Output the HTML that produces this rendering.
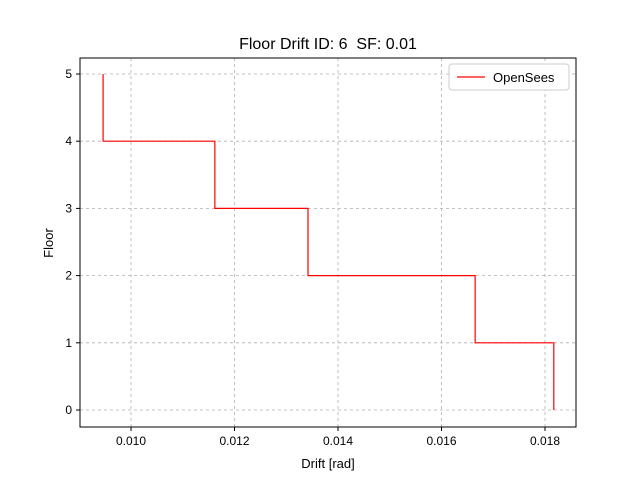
<!DOCTYPE html>
<html><head><meta charset="utf-8"><style>
body{margin:0;background:#fff}
svg text{font-family:"Liberation Sans","DejaVu Sans",sans-serif;fill:#000}
</style></head><body>
<svg id="chart" width="640" height="480">
<rect width="640" height="480" fill="#fff"/>
<text x="328" y="49" font-size="16" text-anchor="middle" style="white-space:pre">Floor Drift ID: 6&#160; SF: 0.01</text>
<g id="grid"></g>
<g id="ticks"></g>
<path id="series" fill="none" stroke="#ff0000" stroke-width="1.2"/>
<rect x="80" y="58" width="496" height="369" fill="none" stroke="#000" stroke-width="1"/>
<text x="328" y="468" font-size="13" text-anchor="middle">Drift [rad]</text>
<text x="53" y="243" font-size="13" text-anchor="middle" transform="rotate(-90 53 243)">Floor</text>
<g>
<rect x="449" y="64" width="120" height="26" rx="3" fill="#fff" stroke="#ccc"/>
<line x1="457" y1="77" x2="485" y2="77" stroke="#ff0000" stroke-width="1.2"/>
<text x="493" y="82" font-size="13">OpenSees</text>
</g>
</svg>
<script>
const floors=[0,1,2,3,4,5];
const drifts=[0.01817,0.01665,0.01342,0.01162,0.00946];
const xTicks=[0.010,0.012,0.014,0.016,0.018];
const xTickLabels=["0.010","0.012","0.014","0.016","0.018"];
const yTicks=[0,1,2,3,4,5];
const xmin=0.009014,xmax=0.018599,ymin=-0.253,ymax=5.238;
const L=80,R=576,T=58,B=427;
function X(v){return L+(v-xmin)/(xmax-xmin)*(R-L);}
function Y(v){return B-(v-ymin)/(ymax-ymin)*(B-T);}
const ns="http://www.w3.org/2000/svg";
const g=document.getElementById('grid'),tk=document.getElementById('ticks');
function mk(tag,attrs,parent){const e=document.createElementNS(ns,tag);for(const k in attrs)e.setAttribute(k,attrs[k]);parent.appendChild(e);return e;}
xTicks.forEach((v,i)=>{const x=X(v);
const gl=mk('line',{x1:x,x2:x,y1:T,y2:B,stroke:'#b0b0b0','stroke-dasharray':'3,3','stroke-width':0.8},g);


mk('line',{x1:x,x2:x,y1:B,y2:B+4,stroke:'#000'},tk);
const t=mk('text',{x:x,y:B+18,'font-size':12,'text-anchor':'middle'},tk);t.textContent=xTickLabels[i];

});
yTicks.forEach(v=>{const y=Y(v);
const gl=mk('line',{x1:L,x2:R,y1:y,y2:y,stroke:'#b0b0b0','stroke-dasharray':'3,3','stroke-width':0.8},g);


mk('line',{x1:L-4,x2:L,y1:y,y2:y,stroke:'#000'},tk);
const t=mk('text',{x:L-8,y:y+4,'font-size':12,'text-anchor':'end'},tk);t.textContent=String(v);

});
let d='M'+X(drifts[0])+','+Y(floors[0]);
for(let i=0;i<drifts.length;i++){
 d+=' L'+X(drifts[i])+','+Y(floors[i+1]);
 if(i+1<drifts.length)d+=' L'+X(drifts[i+1])+','+Y(floors[i+1]);
}
document.getElementById('series').setAttribute('d',d);
</script>
</body></html>
